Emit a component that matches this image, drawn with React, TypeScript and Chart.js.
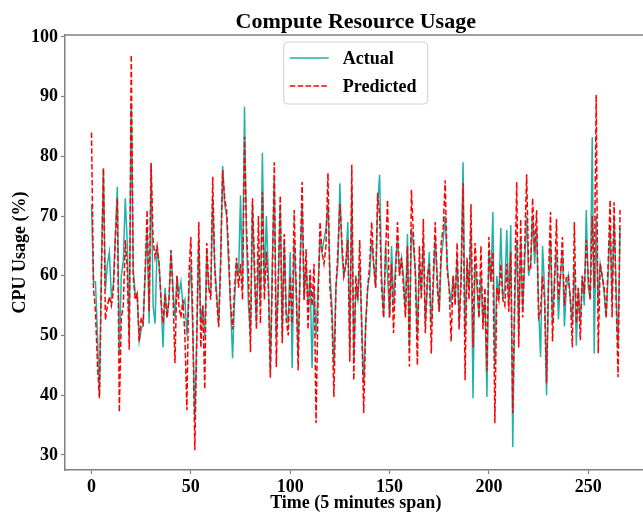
import React, { useEffect, useRef } from "react";
import { Chart, registerables } from "chart.js";
Chart.register(...registerables);

const actual = [
  72, 59, 59, 50, 40, 62, 78, 57.6, 62, 64,
  56.5, 58.6, 67, 74.9, 47, 60, 62.5, 73, 65.5, 49.8,
  89, 61, 57, 57, 49, 51, 52, 60, 68, 52,
  78.8, 55, 52, 65, 62, 56, 48, 58, 53, 56,
  64, 58, 53, 60, 57, 59, 55, 56, 50, 57,
  62, 50, 36, 50, 66, 52, 55, 50, 64, 58,
  57, 73, 62, 57, 52, 63, 78.4, 72, 70, 62,
  55, 46.2, 56, 62, 60, 73.5, 58, 88.3, 66, 55,
  50, 72, 60, 52, 63, 55, 80.6, 58, 70, 60,
  44, 62, 76, 50, 58, 72, 50, 66, 54, 52,
  64, 44.5, 66, 58, 47, 62, 72, 56, 62, 55,
  60, 44.5, 58, 50, 58, 66, 64, 66, 68, 72,
  60, 55, 45, 58, 62, 75.5, 64, 60, 62, 69,
  48, 75, 46, 58, 56, 62, 52, 42, 52, 58,
  60, 66, 62, 58, 72, 76.9, 60, 53, 65, 60,
  53, 65, 55, 62, 66, 60, 63, 60, 54, 67,
  48, 68, 65, 61, 50, 62, 57, 66, 52, 58,
  64, 52, 58, 66, 60, 54, 63, 66, 70, 62,
  58, 55.6, 60, 56, 63, 52, 60, 79, 50, 62,
  58, 68, 39.5, 62, 58, 53, 60, 52, 56, 39.7,
  64, 59, 70.7, 45, 60, 56, 68, 56, 58, 67.7,
  55, 68.5, 31.3, 55, 66, 50, 66, 54, 62, 70,
  60, 62, 70, 62, 68, 55, 46.4, 65, 58, 40,
  58, 66, 52, 60, 64, 52.7, 60, 64, 51.5, 58,
  60, 56, 52, 62, 48.3, 58, 52, 60, 55, 71,
  58, 56, 83.2, 47, 70, 55, 62, 60, 57, 53,
  60, 68, 56, 70, 58, 48, 68,
];

const predicted = [
  84, 58, 54, 45, 39.5, 60, 78, 52.6, 55, 56.5,
  55, 57.5, 66, 73, 37.2, 53, 55, 66, 61, 47.6,
  97, 60, 56, 57, 49, 53, 52, 61, 71, 54,
  78.9, 66, 63, 65, 62, 56, 52, 57, 53, 56,
  64.3, 57, 45.4, 60, 55, 53, 56, 50, 37.5, 60,
  66.5, 52, 30.8, 50, 69, 48, 55, 41, 65.5, 58,
  56, 76.6, 61, 56, 51.4, 62, 77.7, 73, 71, 64,
  55, 51, 58, 63, 58, 62, 56, 83.3, 68, 60,
  47.2, 73, 62, 51, 70, 52, 74, 56, 64, 58,
  42.9, 60, 79, 44.7, 60, 73.4, 48.7, 67, 52.6, 50,
  60, 52, 71, 58, 44.2, 62, 75.7, 56, 64.5, 51,
  61, 55, 62, 35.3, 55, 69, 64, 62, 65, 77.2,
  58, 53, 39.7, 58, 64, 72, 66, 60, 62, 66,
  45.6, 78.6, 42.5, 60, 56, 66, 51, 37, 52, 58,
  62, 69, 62, 58, 73.9, 70, 58, 53, 64, 72.7,
  53, 62, 50.4, 60, 69, 60, 63, 58, 53, 65,
  44.8, 74.4, 67, 60, 45, 65, 56, 69.5, 50.4, 60,
  62, 47, 60, 69, 58, 54, 65.5, 68, 76, 61,
  58, 49, 60, 55, 65.5, 51, 59, 75.5, 42.5, 63,
  56, 72, 48, 65.5, 60, 53, 65, 51, 58, 44,
  66.5, 59, 64, 35.3, 58, 56, 62, 56, 55, 62,
  54, 64, 37, 58, 75.7, 48, 69.5, 53, 65, 77,
  61, 61, 73, 64, 71, 53, 54, 60, 56, 42,
  60, 70.7, 49, 58, 69.5, 56, 60, 66.5, 55, 60,
  60, 56, 48, 69, 52, 58, 49.2, 60, 57, 66,
  60, 56, 70, 58, 90.3, 47, 62, 60, 58, 53,
  62, 72.7, 53, 72.3, 56, 43, 71,
];

const xTicks = [0, 50, 100, 150, 200, 250];
const yTicks = [30, 40, 50, 60, 70, 80, 90, 100];
const seriesNames = ["Actual", "Predicted"];
const titleText = "Compute Resource Usage";
const xLabel = "Time (5 minutes span)";
const yLabel = "CPU Usage (%)";

const FONT = '"Liberation Serif", "Times New Roman", serif';
const SPINE = "#808080";
const TEAL = "#20B2AA";
const RED = "#FF0000";
const DASH = [5.5, 2.4];

const decor = {
  id: "decor",
  afterDatasetsDraw(chart: any) {
    const { ctx, chartArea: a, scales } = chart;
    const cx = scales.x.getPixelForValue((actual.length - 1) / 2);
    ctx.save();
    // top spine
    ctx.strokeStyle = SPINE;
    ctx.lineWidth = 1.5;
    ctx.beginPath();
    ctx.moveTo(a.left, a.top);
    ctx.lineTo(a.right, a.top);
    ctx.stroke();

    // title
    ctx.fillStyle = "#000";
    ctx.textAlign = "center";
    ctx.textBaseline = "alphabetic";
    ctx.font = `bold 22px ${FONT}`;
    ctx.fillText(titleText, cx, 28);

    // x label
    ctx.font = `bold 18px ${FONT}`;
    ctx.textBaseline = "middle";
    ctx.fillText(xLabel, cx, 503);

    // y label
    ctx.save();
    ctx.translate(20, (a.top + a.bottom) / 2);
    ctx.rotate(-Math.PI / 2);
    ctx.fillText(yLabel, 0, 0);
    ctx.restore();

    // legend
    const lw = 144, lh = 62;
    const lx = cx - lw / 2, ly = 42;
    ctx.beginPath();
    (ctx as any).roundRect(lx, ly, lw, lh, 4);
    ctx.fillStyle = "rgba(255,255,255,0.85)";
    ctx.fill();
    ctx.strokeStyle = "#d0d0d0";
    ctx.lineWidth = 1;
    ctx.stroke();

    const rows = [
      { name: seriesNames[0], color: TEAL, dash: [] as number[], y: ly + 16 },
      { name: seriesNames[1], color: RED, dash: DASH, y: ly + 44 },
    ];
    rows.forEach((r) => {
      ctx.strokeStyle = r.color;
      ctx.lineWidth = 1.5;
      ctx.setLineDash(r.dash);
      ctx.beginPath();
      ctx.moveTo(lx + 6, r.y);
      ctx.lineTo(lx + 45, r.y);
      ctx.stroke();
      ctx.setLineDash([]);
      ctx.fillStyle = "#000";
      ctx.textAlign = "left";
      ctx.textBaseline = "middle";
      ctx.font = `bold 18px ${FONT}`;
      ctx.fillText(r.name, lx + 59, r.y + 1);
    });
    ctx.restore();
  },
};

export default function App() {
  const ref = useRef<HTMLCanvasElement | null>(null);
  useEffect(() => {
    document.body.style.margin = "0";
    const canvas = ref.current!;
    const chart = new Chart(canvas, {
      type: "line",
      data: {
        datasets: [
          {
            label: seriesNames[0],
            data: actual.map((v, i) => ({ x: i, y: v })),
            borderColor: TEAL,
            borderWidth: 1.5,
            pointRadius: 0,
            tension: 0,
            fill: false,
            order: 1,
          },
          {
            label: seriesNames[1],
            data: predicted.map((v, i) => ({ x: i, y: v })),
            borderColor: RED,
            borderWidth: 1.5,
            borderDash: DASH,
            pointRadius: 0,
            tension: 0,
            fill: false,
            order: 0,
          },
        ],
      },
      options: {
        animation: false,
        responsive: false,
        devicePixelRatio: 1,
        layout: { padding: { top: 35, right: 0, left: 0, bottom: 0 } },
        plugins: {
          legend: { display: false },
          tooltip: { enabled: false },
          title: { display: false },
        },
        scales: {
          x: {
            type: "linear",
            min: -13.34,
            max: 277.55,
            afterBuildTicks: (s: any) => {
              s.ticks = xTicks.map((v) => ({ value: v }));
            },
            afterFit: (s: any) => {
              s.height = 44;
            },
            grid: {
              display: true,
              drawOnChartArea: false,
              drawTicks: true,
              tickLength: 4,
              tickColor: SPINE,
              tickWidth: 1.2,
            },
            border: { display: true, color: SPINE, width: 1.5 },
            ticks: {
              autoSkip: false,
              maxRotation: 0,
              padding: 3,
              color: "#000",
              font: { family: FONT, size: 18, weight: "bold" },
            },
          },
          y: {
            type: "linear",
            min: 27.47,
            max: 100.33,
            afterBuildTicks: (s: any) => {
              s.ticks = yTicks.map((v) => ({ value: v }));
            },
            afterFit: (s: any) => {
              s.width = 65;
            },
            grid: {
              display: true,
              drawOnChartArea: false,
              drawTicks: true,
              tickLength: 4,
              tickColor: SPINE,
              tickWidth: 1.2,
            },
            border: { display: true, color: SPINE, width: 1.5 },
            ticks: {
              autoSkip: false,
              padding: 3,
              color: "#000",
              font: { family: FONT, size: 18, weight: "bold" },
            },
          },
        },
      },
      plugins: [decor],
    } as any);
    return () => chart.destroy();
  }, []);
  return (
    <div style={{ width: 643, height: 514, overflow: "hidden" }}>
      <canvas ref={ref} width={643} height={514} style={{ display: "block" }} />
    </div>
  );
}
